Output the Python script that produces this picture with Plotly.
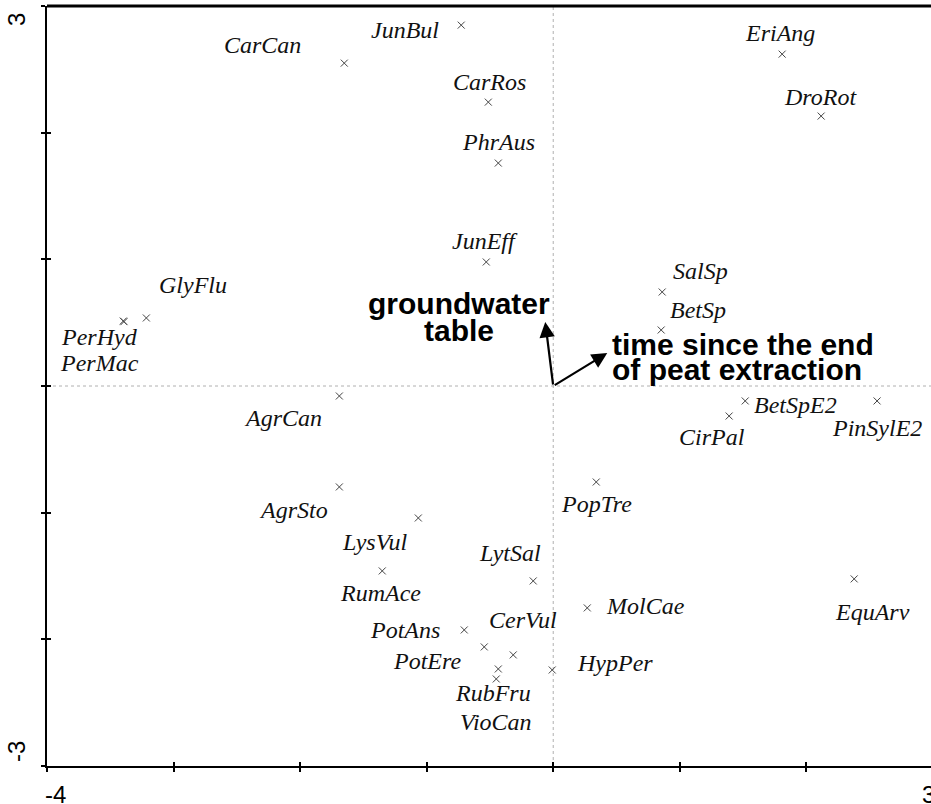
import plotly.graph_objects as go

# Species scores (axis 1, axis 2)
species = ["JunBul", "CarCan", "EriAng", "DroRot", "CarRos", "PhrAus", "JunEff",
           "SalSp", "BetSp", "GlyFlu", "PerHyd", "PerMac", "AgrCan", "BetSpE2",
           "PinSylE2", "CirPal", "PopTre", "AgrSto", "LysVul", "RumAce", "LytSal",
           "EquArv", "MolCae", "PotAns", "CerVul", "PotEre", "RubFru", "VioCan", "HypPer"]
axis1 = [-0.727, -1.651, 1.809, 2.117, -0.513, -0.434, -0.529,
         0.861, 0.853, -3.215, -3.397, -3.392, -1.690, 1.517,
         2.559, 1.390, 0.340, -1.690, -1.066, -1.351, -0.158,
         2.378, 0.269, -0.703, -0.316, -0.545, -0.434, -0.450, -0.008]
axis2 = [2.849, 2.549, 2.620, 2.131, 2.241, 1.760, 0.979,
         0.742, 0.442, 0.537, 0.513, 0.508, -0.079, -0.118,
         -0.118, -0.237, -0.758, -0.797, -1.042, -1.460, -1.539,
         -1.523, -1.752, -1.926, -2.123, -2.060, -2.234, -2.313, -2.242]

# Environmental variables (arrow tips)
env_names = [["groundwater", "table"], ["time since the end", "of peat extraction"]]
env_x = [-0.063, 0.427]
env_y = [0.505, 0.260]

# Tick labels
x_ticks = [-4, -3, -2, -1, 0, 1, 2, 3]
y_ticks = [-3, -2, -1, 0, 1, 2, 3]

# Label offsets in pixels (dx right, dy down) -- layout only
label_offsets = {
    "JunBul": (-56, 5), "CarCan": (-82, -18), "EriAng": (-2, -21), "DroRot": (-1, -19),
    "CarRos": (1, -20), "PhrAus": (0, -21), "JunEff": (-1, -21), "SalSp": (38, -21),
    "BetSp": (37, -20), "GlyFlu": (47, -33), "PerHyd": (-24, 16), "PerMac": (-24, 41),
    "AgrCan": (-56, 22), "BetSpE2": (50, 4), "PinSylE2": (0, 27), "CirPal": (-17, 21),
    "PopTre": (0, 22), "AgrSto": (-46, 23), "LysVul": (-43, 24), "RumAce": (-2, 22),
    "LytSal": (-23, -28), "EquArv": (18, 33), "MolCae": (58, -2), "PotAns": (-59, 0),
    "CerVul": (10, -35), "PotEre": (-57, 14), "RubFru": (-5, 24), "VioCan": (0, 43),
    "HypPer": (63, -7),
}

# visible x-range (x=3 sits just past the right edge of the picture)
x_view = [-4, 2.985]

fig = go.Figure()

# zero lines (dotted)
fig.add_shape(type="line", xref="x", yref="y", x0=0, x1=0, y0=y_ticks[0], y1=y_ticks[-1],
              line=dict(color="#b0b0b0", width=1, dash="dot"), layer="below")
fig.add_shape(type="line", xref="x", yref="y", x0=x_ticks[0], x1=x_ticks[-1], y0=0, y1=0,
              line=dict(color="#b0b0b0", width=1, dash="dot"), layer="below")

fig.add_trace(go.Scatter(
    x=axis1, y=axis2, mode="markers",
    marker=dict(symbol="x-thin", size=7, line=dict(color="#444444", width=1)),
    hovertext=species, showlegend=False,
))

serif = "Liberation Serif, Times New Roman, serif"
sans = "Liberation Sans, Arial, sans-serif"

for name, xv, yv in zip(species, axis1, axis2):
    dx, dy = label_offsets[name]
    fig.add_annotation(x=xv, y=yv, xref="x", yref="y", text=name, showarrow=False,
                       xshift=dx, yshift=-dy, xanchor="center", yanchor="middle",
                       font=dict(family=serif, size=24, color="#111111", style="italic"))

# Environmental arrows
for (lines, xv, yv) in zip(env_names, env_x, env_y):
    fig.add_annotation(x=xv, y=yv, ax=0, ay=0, xref="x", yref="y", axref="x", ayref="y",
                       text="", showarrow=True, arrowhead=2, arrowsize=1.4, arrowwidth=2.2,
                       arrowcolor="black")

bold = dict(family=sans, size=30, color="black")
fig.add_annotation(x=env_x[0], y=env_y[0], xref="x", yref="y", text="<b>" + env_names[0][0] + "</b>",
                   showarrow=False, xshift=-86, yshift=19, xanchor="center", yanchor="middle", font=bold)
fig.add_annotation(x=env_x[0], y=env_y[0], xref="x", yref="y", text="<b>" + env_names[0][1] + "</b>",
                   showarrow=False, xshift=-86, yshift=-8, xanchor="center", yanchor="middle", font=bold)
fig.add_annotation(x=env_x[1], y=env_y[1], xref="x", yref="y", text="<b>" + env_names[1][0] + "</b>",
                   showarrow=False, xshift=3, yshift=9, xanchor="left", yanchor="middle", font=bold)
fig.add_annotation(x=env_x[1], y=env_y[1], xref="x", yref="y", text="<b>" + env_names[1][1] + "</b>",
                   showarrow=False, xshift=3, yshift=-16, xanchor="left", yanchor="middle", font=bold)

# axis end labels
axfont = dict(family=sans, size=24, color="black")
fig.add_annotation(x=0, y=0, xref="paper", yref="paper", text=str(x_ticks[0]), showarrow=False,
                   xanchor="left", yanchor="top", xshift=-4, yshift=-13, font=axfont)
fig.add_annotation(x=1, y=0, xref="paper", yref="paper", text=str(x_ticks[-1]), showarrow=False,
                   xanchor="left", yanchor="top", xshift=-11, yshift=-13, font=axfont)
fig.add_annotation(x=0, y=0, xref="paper", yref="paper", text=str(y_ticks[0]), showarrow=False,
                   xanchor="right", yanchor="bottom", textangle=-90, xshift=-15, yshift=2, font=axfont)
fig.add_annotation(x=0, y=1, xref="paper", yref="paper", text=str(y_ticks[-1]), showarrow=False,
                   xanchor="right", yanchor="top", textangle=-90, xshift=-15, yshift=-5, font=axfont)

# top border
fig.add_shape(type="line", xref="paper", yref="paper", x0=0, x1=1, y0=1, y1=1,
              line=dict(color="black", width=3))

fig.update_layout(
    width=931, height=804,
    margin=dict(l=47, r=0, t=6, b=38, autoexpand=False),
    plot_bgcolor="white", paper_bgcolor="white",
    showlegend=False,
    xaxis=dict(range=x_view, tickvals=x_ticks, showticklabels=False,
               ticks="outside", ticklen=4, tickwidth=1.5, tickcolor="black",
               showline=True, linecolor="black", linewidth=2, showgrid=False, zeroline=False),
    yaxis=dict(range=[y_ticks[0], y_ticks[-1]], tickvals=y_ticks, showticklabels=False,
               ticks="outside", ticklen=4, tickwidth=1.5, tickcolor="black",
               showline=True, linecolor="black", linewidth=2, showgrid=False, zeroline=False),
    xaxis2=dict(range=x_view, tickvals=x_ticks, showticklabels=False,
                ticks="inside", ticklen=4, tickwidth=1.5, tickcolor="black", overlaying="x",
                side="bottom", showline=False, showgrid=False, zeroline=False, anchor="y"),
    yaxis2=dict(range=[y_ticks[0], y_ticks[-1]], tickvals=y_ticks, showticklabels=False,
                ticks="inside", ticklen=4, tickwidth=1.5, tickcolor="black", overlaying="y",
                side="left", showline=False, showgrid=False, zeroline=False, anchor="x"),
)
# invisible trace to activate the inner-tick axes
fig.add_trace(go.Scatter(x=[x_ticks[0]], y=[y_ticks[0]], xaxis="x2", yaxis="y2", mode="markers",
                         marker=dict(opacity=0), hoverinfo="skip", showlegend=False))

fig.write_html("out.html", config={"displayModeBar": False},
               post_script=("document.body.style.margin='0';"
                            "document.body.style.overflow='hidden';"
                            "document.documentElement.style.overflow='hidden';"))
